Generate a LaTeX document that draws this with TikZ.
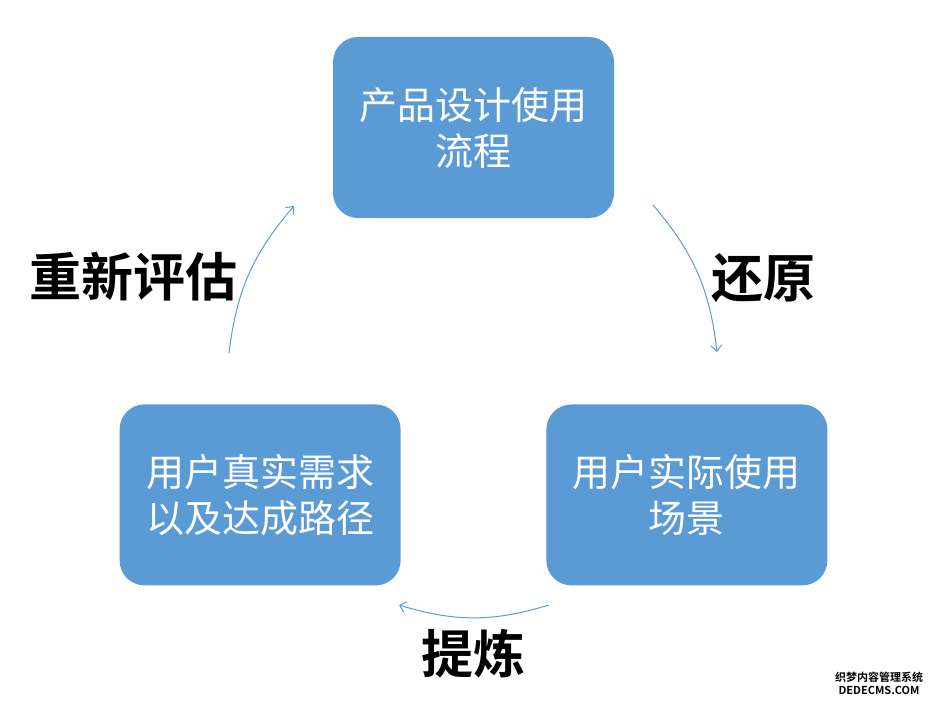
\documentclass[tikz,border=0pt]{standalone}
\usepackage{fontspec}
\setmainfont{Noto Sans CJK SC}[BoldFont={Noto Sans CJK SC Bold}]
\usetikzlibrary{positioning, arrows.meta}

\definecolor{boxblue}{HTML}{5B9BD5}

\begin{document}
\begin{tikzpicture}[
			x=1pt, y=-1pt,
			stage/.style={draw=none, fill=boxblue, rounded corners=25pt, text=white, align=center,
					minimum width=281pt, minimum height=181pt, inner sep=0pt,
					font=\fontsize{38}{46}\selectfont},
			tag/.style={font=\fontsize{52}{60}\selectfont\bfseries, text=black, inner sep=0pt},
			loop/.style={draw=boxblue, line width=1pt, -{Straight Barb[length=6pt, width=11pt]}},
			node distance=1cm
		]
		\useasboundingbox (0,0) rectangle (937,706);

		% Etapas del ciclo
		\node[stage] (design) at (473.5,127.5) {产品设计使用\\流程};
		\node[stage] (need) [below left=186pt and -68pt of design.south west, anchor=north east] {用户真实需求\\以及达成路径};
		\node[stage] (scene) [below right=186pt and -68pt of design.south east, anchor=north west] {用户实际使用\\场景};

		% Extremos de las flechas
		\coordinate (d1) at (653,205);
		\coordinate (s1) at (717,352);
		\coordinate (s2) at (549,605);
		\coordinate (n2) at (399,605);
		\coordinate (n3) at (229,353);
		\coordinate (d3) at (294,206);

		% Flechas curvas
		\draw[loop] (d1) to[bend left=17] (s1);
		\draw[loop] (s2) to[bend left=17] (n2);
		\draw[loop] (n3) to[bend left=17] (d3);

		% Etiquetas
		\node[tag] (restore) at (763,278) {还原};
		\node[tag] (refine) at (473,654) {提炼};
		\node[tag] (reeval) at (133,277) {重新评估};

		% Marca de agua
		\node[align=center, inner sep=0pt, font=\fontsize{11}{13}\selectfont\bfseries] (mark) at (879,683) {织梦内容管理系统\\DEDECMS.COM};

	\end{tikzpicture}
\end{document}
